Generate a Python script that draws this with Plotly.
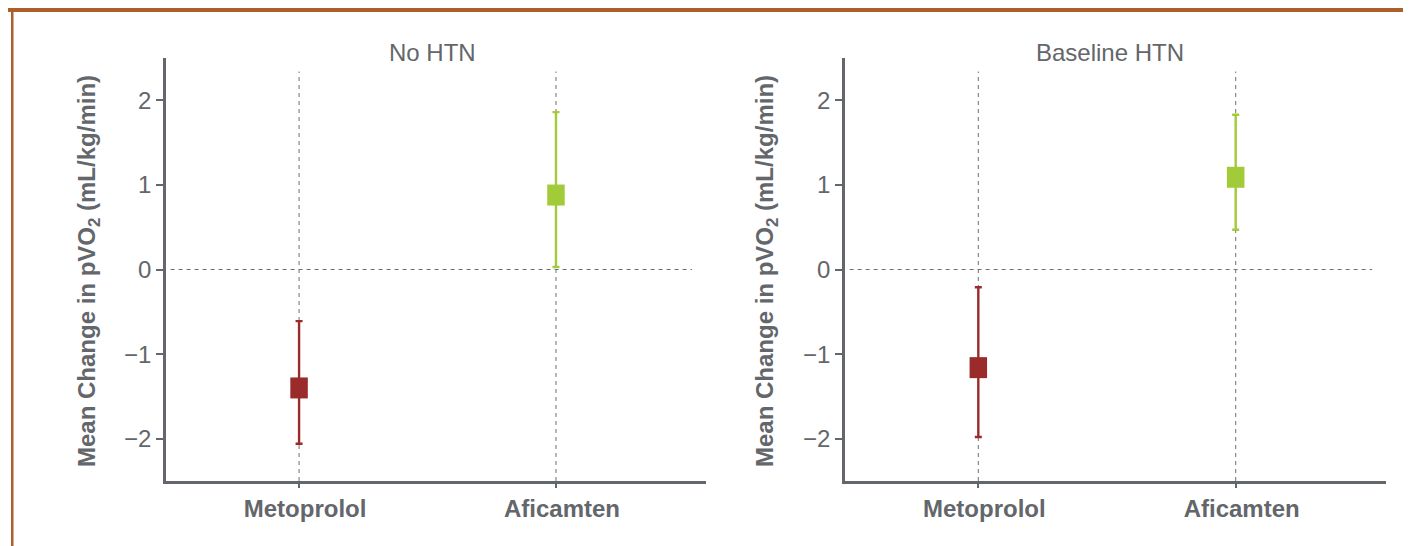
import plotly.graph_objects as go

categories = ["Metoprolol", "Aficamten"]
panels = ["No HTN", "Baseline HTN"]
mean_no_htn = [-1.40, 0.88]
upper_no_htn = [-0.61, 1.86]
lower_no_htn = [-2.06, 0.03]
mean_htn = [-1.16, 1.09]
upper_htn = [-0.21, 1.83]
lower_htn = [-1.98, 0.47]
colors = ["#9B2B2B", "#A2CB3A"]
yticks = [-2, -1, 0, 1, 2]

OFF = 8  # page body margin
W, H = 1411 - OFF, 546 - OFF
grey = "#63666A"
font = "Liberation Sans, Arial, sans-serif"

fig = go.Figure()


def px_x(p):
    return (p - OFF) / W


def px_y(p):
    return 1 - (p - OFF) / H


domains = [(px_x(166), px_x(706)), (px_x(845), px_x(1386))]
ydom = (px_y(481), px_y(58))

data = [(mean_no_htn, upper_no_htn, lower_no_htn), (mean_htn, upper_htn, lower_htn)]

for i, (m, u, l) in enumerate(data):
    xa = "x" if i == 0 else "x2"
    ya = "y" if i == 0 else "y2"
    for k in range(len(categories)):
        fig.add_shape(type="line", xref=xa, yref=ya, x0=k, x1=k, y0=-2.5, y1=2.34,
                      line=dict(color="#707070", width=1, dash="4px,4px"), layer="below")
    fig.add_shape(type="line", xref=xa, yref=ya, x0=-0.5, x1=1.53, y0=0, y1=0,
                  line=dict(color="#707070", width=1, dash="4px,4px"), layer="below")
    for k in range(len(categories)):
        fig.add_trace(go.Scatter(
            x=[k], y=[m[k]], xaxis=xa, yaxis=ya, mode="markers",
            marker=dict(symbol="line-ns", size=15, color=colors[k],
                        line=dict(color=colors[k], width=17.5)),
            error_y=dict(type="data", symmetric=False,
                         array=[u[k] - m[k]], arrayminus=[m[k] - l[k]],
                         color=colors[k], thickness=2.4, width=3.5),
            showlegend=False, hoverinfo="skip"))

axis_common = dict(showgrid=False, zeroline=False, showline=True, linecolor=grey,
                   linewidth=2.5, ticks="outside", tickcolor=grey, tickwidth=2)
yticktext = [("\u2212" + str(-v)) if v < 0 else str(v) for v in yticks]

fig.update_layout(
    width=W, height=H, margin=dict(l=0, r=0, t=0, b=0),
    paper_bgcolor="white", plot_bgcolor="white",
    font=dict(family=font, color=grey),
    xaxis=dict(domain=list(domains[0]), range=[-0.518, 1.584], tickvals=[0, 1],
               ticktext=[f"<b>{c}</b>" for c in categories], ticklen=4, ticklabelshift=6,
               tickfont=dict(size=24, color=grey), anchor="y", **axis_common),
    xaxis2=dict(domain=list(domains[1]), range=[-0.518, 1.584], tickvals=[0, 1],
                ticktext=[f"<b>{c}</b>" for c in categories], ticklen=4, ticklabelshift=6,
                tickfont=dict(size=24, color=grey), anchor="y2", **axis_common),
    yaxis=dict(domain=list(ydom), range=[-2.5, 2.5], tickvals=yticks, ticktext=yticktext,
               ticklen=7, tickfont=dict(size=24, color=grey), anchor="x", **axis_common),
    yaxis2=dict(domain=list(ydom), range=[-2.5, 2.5], tickvals=yticks, ticktext=yticktext,
                ticklen=7, tickfont=dict(size=24, color=grey), anchor="x2", **axis_common),
)

# y-axis titles
for cx in (88, 766):
    fig.add_annotation(text="<b>Mean Change in pVO<sub>2</sub> (mL/kg/min)</b>",
                       x=px_x(cx), y=px_y(271), xref="paper", yref="paper", textangle=-90,
                       showarrow=False, font=dict(size=24, color=grey),
                       xanchor="center", yanchor="middle")

# panel titles
for i, name in enumerate(panels):
    fig.add_annotation(text=name, x=px_x([432, 1110][i]), y=px_y(53), xref="paper", yref="paper",
                       showarrow=False, font=dict(size=24, color=grey),
                       xanchor="center", yanchor="middle")

# frame decoration: brown top band and left border
fig.add_shape(type="rect", xref="paper", yref="paper", x0=0, x1=1, y0=px_y(12), y1=1,
              fillcolor="#AD5F2A", line=dict(width=0), layer="above")
fig.add_shape(type="rect", xref="paper", yref="paper", x0=px_x(11), x1=px_x(13.5), y0=0, y1=1,
              fillcolor="#AD5F2A", line=dict(width=0), layer="above")

fig.write_html("out.html")
